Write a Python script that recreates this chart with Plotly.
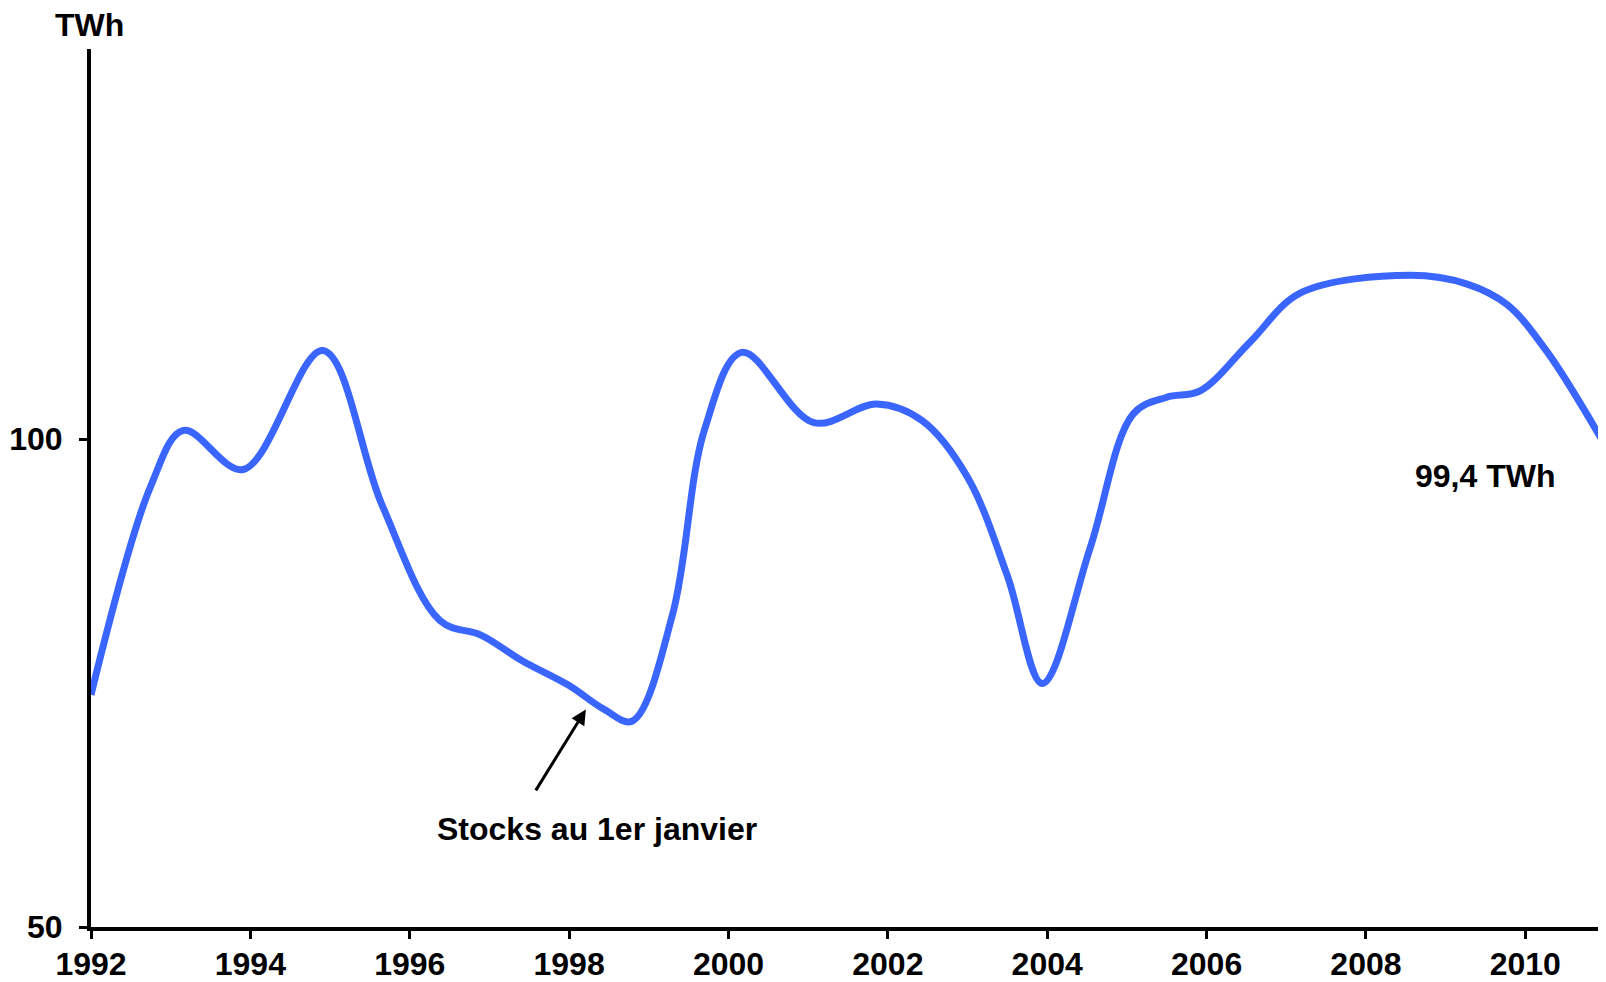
import plotly.graph_objects as go

# Stocks au 1er janvier (TWh)
years = [1992.0, 1992.75, 1993.16, 1993.91, 1994.91, 1995.65,
         1996.38, 1996.9, 1997.41, 1997.99, 1998.44, 1998.79, 1999.3, 1999.7,
         2000.17, 2001.07, 2001.86, 2002.43, 2003.0, 2003.5,
         2003.94, 2004.54, 2005.08, 2005.5, 2005.92, 2006.55, 2007.18,
         2008.56, 2009.27, 2009.77, 2010.27, 2011.0]
stocks = [73.8, 95.2, 100.9, 96.9, 109.1, 93.3,
          81.4, 79.9, 77.3, 74.8, 72.3, 71.1, 82.1, 101.0,
          108.9, 101.7, 103.6, 101.9, 96.1, 86.0,
          74.95, 88.9, 102.6, 104.3, 104.95, 110.0, 115.0,
          116.8, 115.9, 113.8, 109.0, 99.4]

x_ticks = [1992, 1994, 1996, 1998, 2000, 2002, 2004, 2006, 2008, 2010]
y_ticks = [50, 100]

FONT = dict(family="Liberation Sans, Arial, sans-serif", size=32, color="black", weight="bold")

fig = go.Figure()
fig.add_trace(go.Scatter(
    x=years, y=stocks, mode="lines",
    line=dict(color="#3a66ff", width=7, shape="spline", smoothing=1.0),
    hoverinfo="skip", showlegend=False,
))

fig.add_annotation(x=1998.21, y=72.3, ax=1997.57, ay=63.85, xref="x", yref="y",
                   axref="x", ayref="y", text="", showarrow=True,
                   arrowhead=2, arrowsize=1, arrowwidth=3, arrowcolor="black")
fig.add_annotation(x=1998.35, y=60.0, xref="x", yref="y", text="Stocks au 1er janvier",
                   showarrow=False, font=FONT)
fig.add_annotation(x=2009.5, y=96.25, xref="x", yref="y", text="99,4 TWh",
                   showarrow=False, font=FONT)
fig.add_annotation(x=0, y=1, xref="paper", yref="paper", text="TWh", showarrow=False,
                   font=FONT, xanchor="center", yanchor="bottom", yshift=5, xshift=-2,
                   borderpad=0)

fig.update_layout(
    template="none",
    width=1598, height=974,
    margin=dict(l=83, r=1, t=41, b=55, pad=0),
    paper_bgcolor="white", plot_bgcolor="white",
    xaxis=dict(range=[1992, 2011], tickvals=x_ticks, ticktext=[str(v) for v in x_ticks],
               showgrid=False, zeroline=False, showline=True, linecolor="black", linewidth=4,
               ticks="outside", ticklen=8, tickwidth=3, tickcolor="black", automargin=False,
               tickfont=FONT, ticklabelstandoff=-2),
    yaxis=dict(range=[50, 140], tickvals=y_ticks, ticktext=[str(v) for v in y_ticks],
               showgrid=False, zeroline=False, showline=True, linecolor="black", linewidth=4,
               ticks="outside", ticklen=8, tickwidth=3, tickcolor="black", automargin=False,
               tickfont=FONT, ticklabelstandoff=10),
)

fig.write_html("out.html")
